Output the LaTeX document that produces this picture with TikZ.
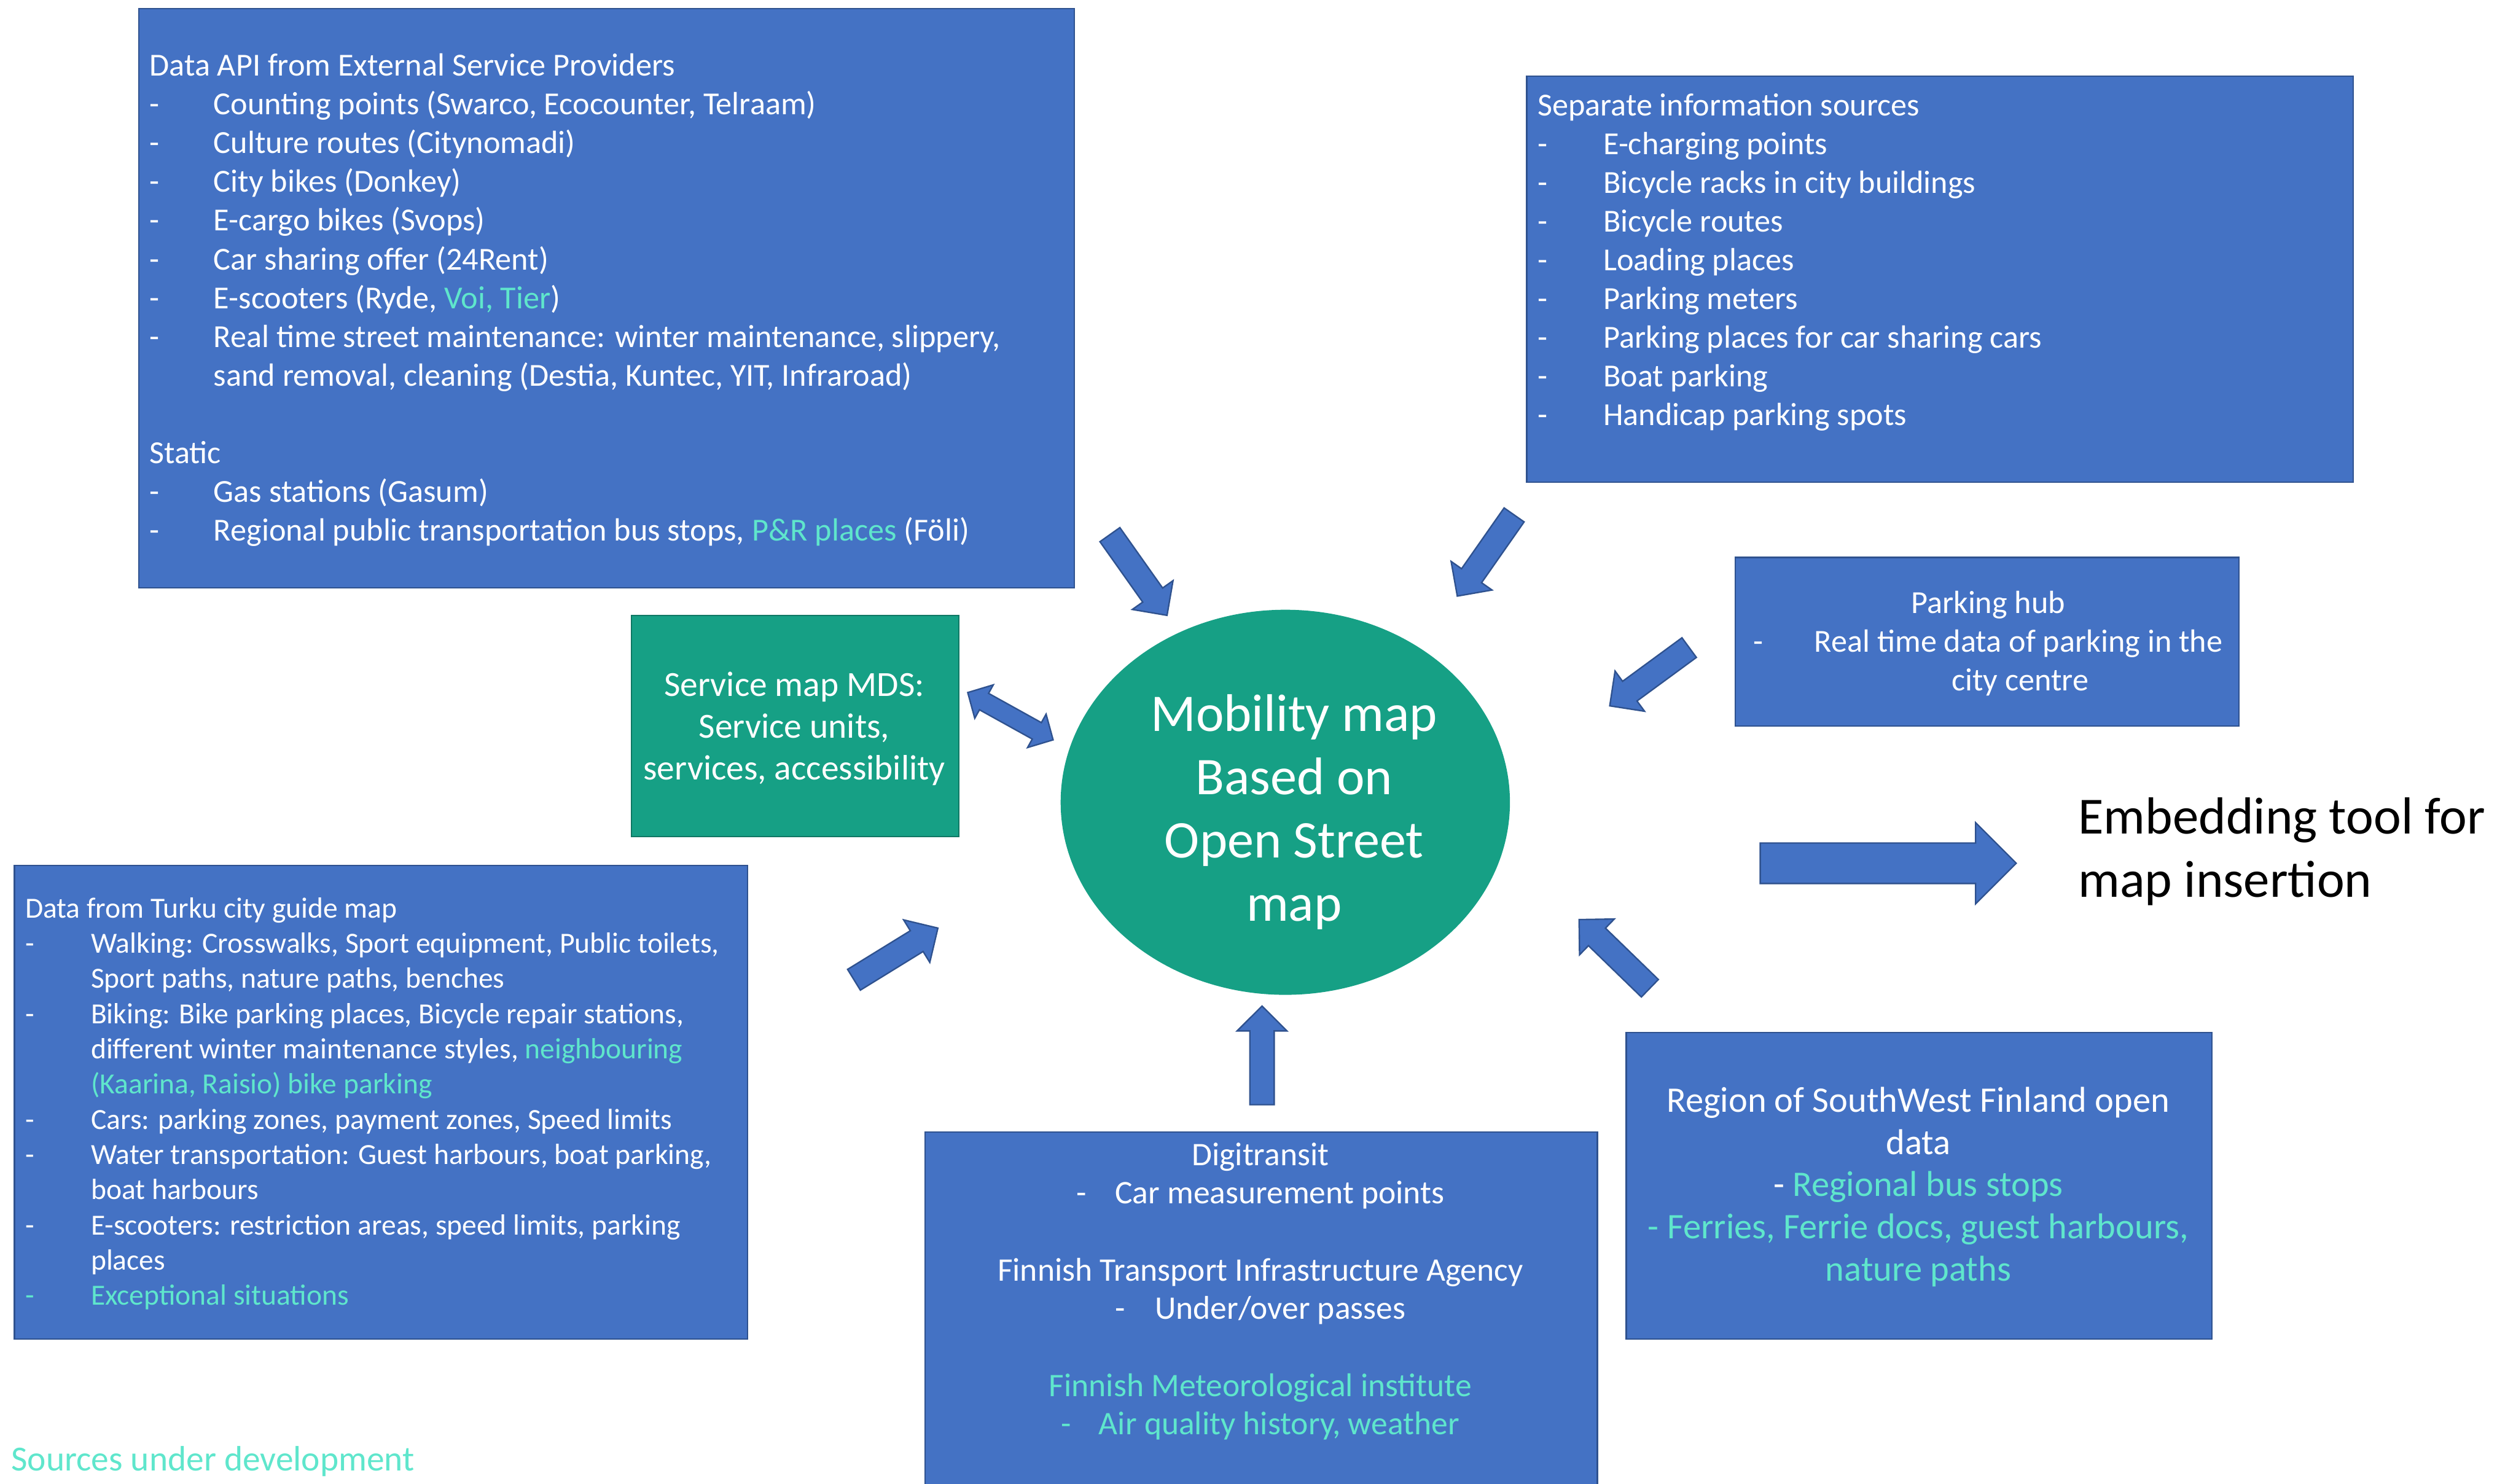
\documentclass[tikz,border=0pt]{standalone}
\usepackage{fontspec}
\setmainfont{Carlito}
\usetikzlibrary{calc,shapes.geometric}
\definecolor{boxblue}{HTML}{4472C4}
\definecolor{boxline}{HTML}{2F528F}
\definecolor{mapgreen}{HTML}{16A085}
\definecolor{devcyan}{HTML}{5FE6CC}
\newcommand\itm[2][40pt]{\makebox[#1][l]{-}#2}
\newcommand\dev[1]{\textcolor{devcyan}{#1}}
% block arrow: tail, tip, half shaft, half head, head length
\newcommand\bigarrow[5]{%
  \coordinate (hb) at ($(#2)!#5!(#1)$);
  \draw[bigarr] ($(#1)!#3!90:(#2)$) -- ($(hb)!#3!90:(#2)$) -- ($(hb)!#4!90:(#2)$)
    -- (#2) -- ($(hb)!#4!-90:(#2)$) -- ($(hb)!#3!-90:(#2)$) -- ($(#1)!#3!-90:(#2)$) -- cycle;}
\newcommand\dblarrow[5]{%
  \coordinate (ha) at ($(#1)!#5!(#2)$);
  \coordinate (hb) at ($(#2)!#5!(#1)$);
  \draw[bigarr] (#1) -- ($(ha)!#4!90:(#2)$) -- ($(ha)!#3!90:(#2)$) -- ($(hb)!#3!-90:(#1)$)
    -- ($(hb)!#4!-90:(#1)$) -- (#2) -- ($(hb)!#4!90:(#1)$) -- ($(hb)!#3!90:(#1)$)
    -- ($(ha)!#3!-90:(#2)$) -- ($(ha)!#4!-90:(#2)$) -- cycle;}
\tikzset{
    srcbox/.style={
      rectangle,
      fill=boxblue,
      draw=boxline, line width=0.9pt,
      inner sep=0pt,
      anchor=north west},
    %text nodes sit on the baseline of their last line
    srctext/.style={
      text=white,
      inner sep=0pt,
      align=left,
      anchor=base west,
      font=\fontsize{20}{24.1}\selectfont},
    midtext/.style={
      srctext,
      align=center,
      anchor=base},
    bigarr/.style={
      fill=boxblue,
      draw=boxline, line width=0.9pt,
      line join=miter},
}
\begin{document}
\begin{tikzpicture}[x=1pt,y=-1pt]
    \useasboundingbox (0,0) rectangle (1568,924.6);
    % sources
    \node (api) [srcbox, minimum width=583pt, minimum height=361pt] at (86,5) {};
    \node (apitxt) [srctext, font=\fontsize{20}{24.15}\selectfont] at (93,337.1)
          {Data API from External Service Providers\\
           \itm{Counting points (Swarco, Ecocounter, Telraam)}\\
           \itm{Culture routes (Citynomadi)}\\
           \itm{City bikes (Donkey)}\\
           \itm{E-cargo bikes (Svops)}\\
           \itm{Car sharing offer (24Rent)}\\
           \itm{E-scooters (Ryde, \dev{Voi, Tier})}\\
           \itm{Real time street maintenance: winter maintenance, slippery,}\\
           \hspace*{40pt}sand removal, cleaning (Destia, Kuntec, YIT, Infraroad)\\[24.15pt]
           Static\\
           \itm{Gas stations (Gasum)}\\
           \itm{Regional public transportation bus stops, \dev{P\&R places} (Föli)}};
    \node (sep) [srcbox, minimum width=515pt, minimum height=253pt] at (951,47) {};
    \node (septxt) [srctext] at (958,265.1)
          {Separate information sources\\
           \itm[41pt]{E-charging points}\\
           \itm[41pt]{Bicycle racks in city buildings}\\
           \itm[41pt]{Bicycle routes}\\
           \itm[41pt]{Loading places}\\
           \itm[41pt]{Parking meters}\\
           \itm[41pt]{Parking places for car sharing cars}\\
           \itm[41pt]{Boat parking}\\
           \itm[41pt]{Handicap parking spots}};
    \node (hub) [srcbox, minimum width=314pt, minimum height=105pt] at (1081,347) {};
    \node (hubtxt) [midtext] at (1239,430.5)
          {Parking hub\\
           \itm[38pt]{Real time data of parking in the}\\
           \hspace*{40pt}city centre};
    \node (mds) [srcbox, fill=mapgreen, draw=mapgreen!75!black, minimum width=204pt, minimum height=138pt] at (393,383) {};
    \node (mdstxt) [midtext, font=\fontsize{22}{26}\selectfont] at (495,486)
          {Service map MDS:\\ Service units,\\ services, accessibility};
    \node (turku) [srcbox, minimum width=457pt, minimum height=295pt] at (8.5,539) {};
    \node (turkutxt) [srctext, font=\fontsize{18.2}{21.95}\selectfont] at (15.5,813.4)
          {Data from Turku city guide map\\
           \itm[41pt]{Walking: Crosswalks, Sport equipment, Public toilets,}\\
           \hspace*{41pt}Sport paths, nature paths, benches\\
           \itm[41pt]{Biking: Bike parking places, Bicycle repair stations,}\\
           \hspace*{41pt}different winter maintenance styles, \dev{neighbouring}\\
           \hspace*{41pt}\dev{(Kaarina, Raisio) bike parking}\\
           \itm[41pt]{Cars: parking zones, payment zones, Speed limits}\\
           \itm[41pt]{Water transportation: Guest harbours, boat parking,}\\
           \hspace*{41pt}boat harbours\\
           \itm[41pt]{E-scooters: restriction areas, speed limits, parking}\\
           \hspace*{41pt}places\\
           \dev{\itm[41pt]{Exceptional situations}}};
    \node (digi) [srcbox, minimum width=419pt, minimum height=240pt] at (576,705) {};
    \node (digitxt) [midtext, font=\fontsize{20.5}{24}\selectfont] at (785.5,894.2)
          {Digitransit\\
           \itm[24pt]{Car measurement points}\\[24pt]
           Finnish Transport Infrastructure Agency\\
           \itm[24.7pt]{Under/over passes}\\[24pt]
           \dev{Finnish Meteorological institute}\\
           \dev{\itm[23.4pt]{Air quality history, weather}}};
    \node (region) [srcbox, minimum width=365pt, minimum height=191pt] at (1013,643) {};
    \node (regiontxt) [midtext, font=\fontsize{22.4}{26.3}\selectfont] at (1195.5,798.2)
          {Region of SouthWest Finland open\\
           data\\
           - \dev{Regional bus stops}\\
           \dev{- Ferries, Ferrie docs, guest harbours,}\\
           \dev{nature paths}};
    % the map
    \node (osm) [ellipse, fill=mapgreen, minimum width=280pt, minimum height=240pt] at (801,500) {};
    \node (osmtxt) [midtext, font=\fontsize{33}{39.5}\selectfont] at (806.5,574.1)
          {Mobility map\\ Based on\\ Open Street\\ map};
    \node (embed) [srctext, text=black, font=\fontsize{32.5}{39.2}\selectfont] at (1295,558.9)
          {Embedding tool for\\ map insertion};
    \node (dev) [srctext, text=devcyan, font=\fontsize{22}{26}\selectfont] at (6.9,916.8)
          {Sources under development};
    % arrows
    \coordinate (aT) at (691.7,333.2);  \coordinate (aH) at (727.3,383.5);
    \coordinate (bT) at (943.6,320.9);  \coordinate (bH) at (908.2,371.5);
    \coordinate (cT) at (1052.7,403.6); \coordinate (cH) at (1003.2,439.9);
    \coordinate (dA) at (603.1,431.6);  \coordinate (dB) at (656.3,461.1);
    \coordinate (eT) at (532.2,610.6);  \coordinate (eH) at (584.5,578.4);
    \coordinate (fT) at (786.5,688.5);  \coordinate (fH) at (786.5,627);
    \coordinate (gT) at (1028.2,615.9); \coordinate (gH) at (984.1,573.1);
    \coordinate (hT) at (1097,538);     \coordinate (hH) at (1256.5,538);
    \bigarrow{aT}{aH}{7.6pt}{15.55pt}{15.5pt}
    \bigarrow{bT}{bH}{7.6pt}{15.55pt}{15.5pt}
    \bigarrow{cT}{cH}{7.6pt}{15.55pt}{15.5pt}
    \dblarrow{dA}{dB}{5.85pt}{11.9pt}{11.6pt}
    \bigarrow{eT}{eH}{7.6pt}{15.55pt}{15.5pt}
    \bigarrow{fT}{fH}{7.6pt}{15.55pt}{15.5pt}
    \bigarrow{gT}{gH}{7.6pt}{15.55pt}{15.5pt}
    \bigarrow{hT}{hH}{12.6pt}{25.3pt}{25.3pt}
\end{tikzpicture}
\end{document}
